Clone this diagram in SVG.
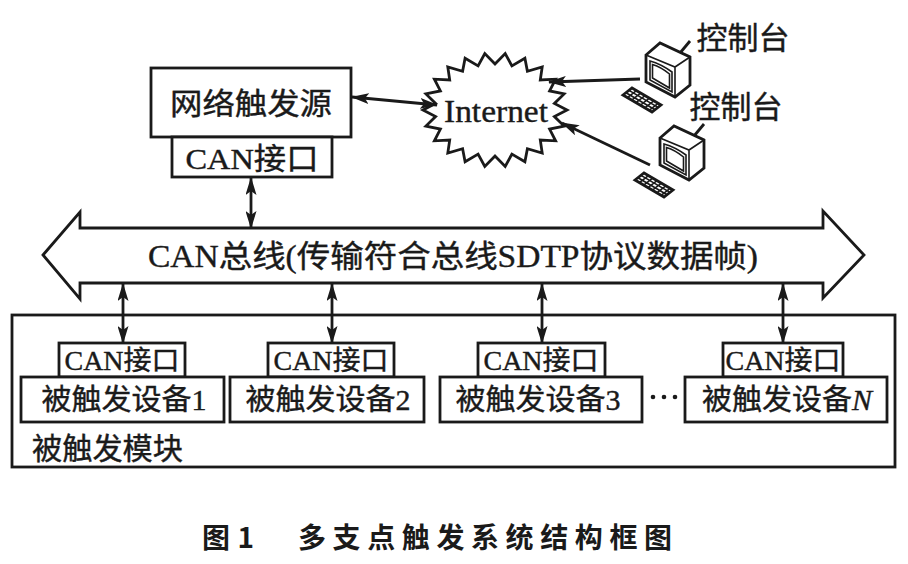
<svg xmlns="http://www.w3.org/2000/svg" xmlns:xlink="http://www.w3.org/1999/xlink" width="908" height="564" viewBox="0 0 908 564">
<style>
.bx{fill:#fff;stroke:#1a1a1a;stroke-width:2.8}
.ln{fill:none;stroke:#1a1a1a;stroke-width:2.8}
.thin{fill:none;stroke:#1a1a1a;stroke-width:1.6}
.t{font-family:"Liberation Serif","Noto Sans CJK SC",serif;fill:#1a1a1a;stroke:#1a1a1a;stroke-width:0.4;dominant-baseline:central}
.cap{font-family:"Noto Sans CJK SC",sans-serif;font-weight:bold;fill:#1a1a1a;dominant-baseline:central}
</style>
<defs>
<marker id="ah" viewBox="0 0 18 11" refX="17" refY="5.5" markerWidth="18" markerHeight="11" markerUnits="userSpaceOnUse" orient="auto-start-reverse">
<path d="M0,0 L18,5.5 L0,11 L4,5.5 Z" fill="#1a1a1a"/>
</marker>
<g id="monitor">
<path class="bx" d="M0,0 L14,-12 L44,2 L44,30 L29,42 L0,27 Z" stroke-width="2.2"/>
<path class="thin" d="M0,0 L29,12 L44,2 M29,12 L29,42" stroke-width="2"/>
<path class="thin" d="M4,6 Q15,9 26,17 L26,37 Q15,31 4,25 Z"/>
<path class="thin" d="M6.5,9.5 Q15,12 23.5,19 L23.5,33 Q15,28 6.5,23 Z" stroke-width="1.2"/>
<path class="ln" d="M34,-2 L44,-14" stroke-width="2.4"/>
</g>
<g id="keyboard">
<path class="bx" d="M623,95 L632,88 L661,105 L652,112 Z" stroke-width="2"/>
<path class="thin" stroke-width="1" d="M626,92.7 L655,109.7 M629,90.4 L658,107.4 M627.4,97.6 L636.4,90.6 M631.7,100.1 L640.7,93.1 M636,102.7 L645,95.7 M640.4,105.2 L649.4,98.2 M644.8,107.8 L653.8,100.8 M649.1,110.3 L658.1,103.3"/>
</g>
</defs>
<rect width="908" height="564" fill="#fff"/>

<g id="module">
<rect class="bx" x="12" y="315" width="883" height="152"/>
<text class="t" x="32" y="448" font-size="30" textLength="151" lengthAdjust="spacingAndGlyphs">被触发模块</text>
</g>

<g id="bus">
<path class="bx" d="M43,255 L80,212 L80,228 L823,228 L823,211 L864,255 L823,298 L823,283 L80,283 L80,299 Z"/>
<text class="t" x="453" y="256" font-size="31" text-anchor="middle" textLength="610" lengthAdjust="spacingAndGlyphs">CAN总线(传输符合总线SDTP协议数据帧)</text>
</g>

<g id="source">
<rect class="bx" x="151" y="68" width="200" height="69"/>
<text class="t" x="251" y="103" font-size="30" text-anchor="middle" textLength="162" lengthAdjust="spacingAndGlyphs">网络触发源</text>
<rect class="bx" x="172" y="137" width="160" height="40"/>
<text class="t" x="252" y="158" font-size="30" text-anchor="middle" textLength="133" lengthAdjust="spacingAndGlyphs">CAN接口</text>
</g>

<g id="internet">
<polygon class="bx" points="567,110 554.4,116.5 564.1,126.1 549.6,129.1 555.6,140.8 540.3,140.1 542.2,153.1 527.4,148.7 524.9,161.8 511.9,154.1 505.2,166.4 495,156 484.8,166.4 478.1,154.1 465.1,161.8 462.6,148.7 447.8,153.1 449.7,140.1 434.4,140.8 440.4,129.1 425.9,126.1 435.6,116.5 423,110 435.6,103.5 425.9,93.9 440.4,90.9 434.4,79.2 449.7,79.9 447.8,66.9 462.6,71.3 465.1,58.2 478.1,65.9 484.8,53.6 495,64 505.2,53.6 511.9,65.9 524.9,58.2 527.4,71.3 542.2,66.9 540.3,79.9 555.6,79.2 549.6,90.9 564.1,93.9 554.4,103.5"/>
<text class="t" x="496" y="111" font-size="32" text-anchor="middle" textLength="104" lengthAdjust="spacingAndGlyphs">Internet</text>
</g>

<g id="console1">
<use xlink:href="#monitor" href="#monitor" transform="translate(646,55)"/>
<use xlink:href="#keyboard" href="#keyboard"/>
<text class="t" x="743" y="38" font-size="31" text-anchor="middle" textLength="93" lengthAdjust="spacingAndGlyphs">控制台</text>
</g>

<g id="console2">
<use xlink:href="#monitor" href="#monitor" transform="translate(660,138)"/>
<use xlink:href="#keyboard" href="#keyboard" transform="translate(12,85)"/>
<text class="t" x="736" y="107" font-size="31" text-anchor="middle" textLength="93" lengthAdjust="spacingAndGlyphs">控制台</text>
</g>

<g id="device1">
<rect class="bx" x="59" y="343" width="126" height="34"/>
<text class="t" x="122" y="361" font-size="27" text-anchor="middle" textLength="115" lengthAdjust="spacingAndGlyphs">CAN接口</text>
<rect class="bx" x="21" y="377" width="203" height="45"/>
<text class="t" x="124" y="400" font-size="29" text-anchor="middle" textLength="165" lengthAdjust="spacingAndGlyphs">被触发设备1</text>
</g>
<g id="device2">
<rect class="bx" x="268" y="343" width="126" height="34"/>
<text class="t" x="331" y="361" font-size="27" text-anchor="middle" textLength="115" lengthAdjust="spacingAndGlyphs">CAN接口</text>
<rect class="bx" x="230" y="377" width="194" height="45"/>
<text class="t" x="328" y="400" font-size="29" text-anchor="middle" textLength="165" lengthAdjust="spacingAndGlyphs">被触发设备2</text>
</g>
<g id="device3">
<rect class="bx" x="478" y="343" width="127" height="34"/>
<text class="t" x="541" y="361" font-size="27" text-anchor="middle" textLength="115" lengthAdjust="spacingAndGlyphs">CAN接口</text>
<rect class="bx" x="440" y="377" width="202" height="45"/>
<text class="t" x="538" y="400" font-size="29" text-anchor="middle" textLength="165" lengthAdjust="spacingAndGlyphs">被触发设备3</text>
</g>
<g id="dots" fill="#1a1a1a">
<circle cx="653" cy="397" r="2.3"/><circle cx="664" cy="397" r="2.3"/><circle cx="675" cy="397" r="2.3"/>
</g>
<g id="deviceN">
<rect class="bx" x="723" y="343" width="120" height="34"/>
<text class="t" x="783" y="361" font-size="27" text-anchor="middle" textLength="115" lengthAdjust="spacingAndGlyphs">CAN接口</text>
<rect class="bx" x="685" y="377" width="202" height="45"/>
<text class="t" x="787" y="400" font-size="29" text-anchor="middle" textLength="170" lengthAdjust="spacingAndGlyphs">被触发设备<tspan font-style="italic">N</tspan></text>
</g>

<g id="connectors" class="ln" marker-end="url(#ah)">
<path d="M352,97 L437,105" marker-start="url(#ah)"/>
<path d="M640,79 L549,82"/>
<path d="M650,165 L562,123"/>
<path d="M251,178 L251,228" marker-start="url(#ah)"/>
<path d="M123,284 L123,343" marker-start="url(#ah)"/>
<path d="M332,284 L332,343" marker-start="url(#ah)"/>
<path d="M542,284 L542,343" marker-start="url(#ah)"/>
<path d="M783,284 L783,343" marker-start="url(#ah)"/>
</g>

<g id="caption">
<text class="cap" x="202" y="536" font-size="28" textLength="52" lengthAdjust="spacing">图 1</text>
<text class="cap" x="298" y="536" font-size="28" textLength="374" lengthAdjust="spacing">多支点触发系统结构框图</text>
</g>
</svg>
